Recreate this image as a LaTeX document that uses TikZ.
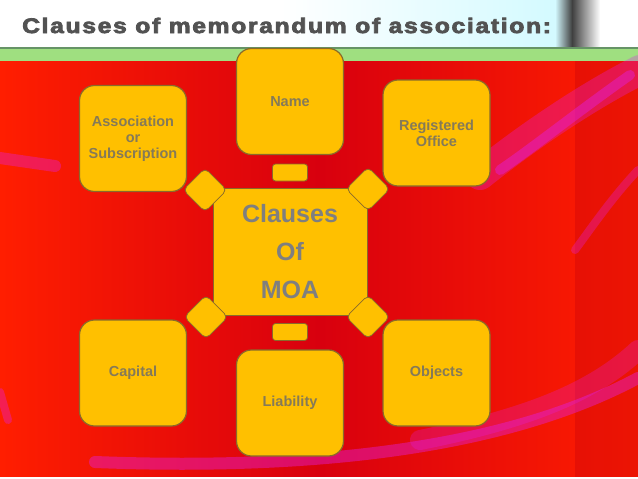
\documentclass[tikz,border=0pt]{standalone}
\usepackage{fontspec}
\setmainfont{Liberation Sans}
\newfontfamily\titlefont[FakeBold=3.5,LetterSpace=7]{Liberation Sans Bold}
\usetikzlibrary{shapes.geometric}
\definecolor{gold}{HTML}{FFC000}
\definecolor{edge}{HTML}{8A6A2A}
\definecolor{lbl}{HTML}{857A58}
\definecolor{ctr}{HTML}{7F7F7F}
\definecolor{redA}{HTML}{FF1E00}
\definecolor{redB}{HTML}{D8000E}
\definecolor{mag}{HTML}{E020F0}
\tikzset{
  box/.style={draw=edge, line width=1.2pt, fill=gold, rounded corners=15pt,
    minimum width=107pt, minimum height=106pt, inner sep=2pt, align=center,
    text=lbl, font=\fontsize{14.5}{16}\selectfont\bfseries},
  center/.style={draw=edge, line width=1pt, fill=gold, minimum width=154pt,
    minimum height=127pt, align=center, text=ctr,
    font=\fontsize{25}{38}\selectfont\bfseries},
  knob/.style={draw=edge, line width=0.8pt, fill=gold, rounded corners=5pt,
    minimum size=31pt, rotate=45, inner sep=0pt},
  tab/.style={draw=edge, line width=0.8pt, fill=gold, rounded corners=3pt,
    minimum width=35pt, minimum height=17pt, inner sep=0pt},
  streak/.style={draw=mag, line cap=round, opacity=0.4}
}
\begin{document}
\begin{tikzpicture}[x=1pt,y=-1pt]
\useasboundingbox (0,0) rectangle (638,479);
% header
\fill[white] (0,0) rectangle (638,48);
\shade[left color=white, right color=white!60!blue!25!cyan!20] (280,0) rectangle (555,48);
\shade[left color=white!60!blue!25!cyan!20, right color=black!75] (555,0) rectangle (572,48);
\shade[left color=black!75, right color=white] (572,0) rectangle (600,48);
% green band
\fill[green!50!olive!50!white] (0,47) rectangle (638,61);
\fill[green!30!black!60] (0,47) rectangle (638,48.5);
% red area
\shade[left color=redA, right color=redB] (0,61) rectangle (320,477);
\shade[left color=redB, right color=redA] (320,61) rectangle (638,477);
\fill[redB!90!black, opacity=0.3] (575,61) rectangle (638,477);
% magenta streaks
\draw[streak, line width=30pt, opacity=0.3] (640,70) .. controls (590,95) and (530,135) .. (480,175);
\draw[streak, line width=10pt] (630,75) .. controls (580,110) and (530,150) .. (500,170);
\draw[streak, line width=8pt, opacity=0.3] (638,170) .. controls (610,200) and (590,230) .. (575,250);
\draw[streak, line width=12pt, opacity=0.35] (0,158) -- (55,166);
\draw[streak, line width=12pt] (95,462) .. controls (300,470) and (500,452) .. (638,378);
\draw[streak, line width=20pt, opacity=0.25] (420,440) .. controls (520,420) and (590,395) .. (638,350);
\draw[streak, line width=8pt, opacity=0.35] (0,392) -- (8,420);
\fill[white] (0,477) rectangle (638,479);
% title
\node[anchor=base west, inner sep=0pt, text=black!68, xscale=1.17,
  font=\titlefont\fontsize{21}{21}\selectfont] (title) at (22,33)
  {Clauses of memorandum of association:};
% center
\node[center] (moa) at (290,252) {Clauses\\Of\\MOA};
% knobs
\node[knob] (k1) at (205,190) {};
\node[knob] (k2) at (368,189) {};
\node[knob] (k3) at (206,317) {};
\node[knob] (k4) at (368,317) {};
\node[tab] (t1) at (290,172.5) {};
\node[tab] (t2) at (290,332) {};
% outer boxes
\node[box] (name) at (290,101.5) {Name};
\node[box] (assoc) at (133,138.5) {Association\\or\\Subscription};
\node[box] (reg) at (436.5,133) {Registered\\Office};
\node[box] (cap) at (133,373) {Capital};
\node[box] (obj) at (436.5,373) {Objects};
\node[box] (liab) at (290,403) {Liability};
\end{tikzpicture}
\end{document}
